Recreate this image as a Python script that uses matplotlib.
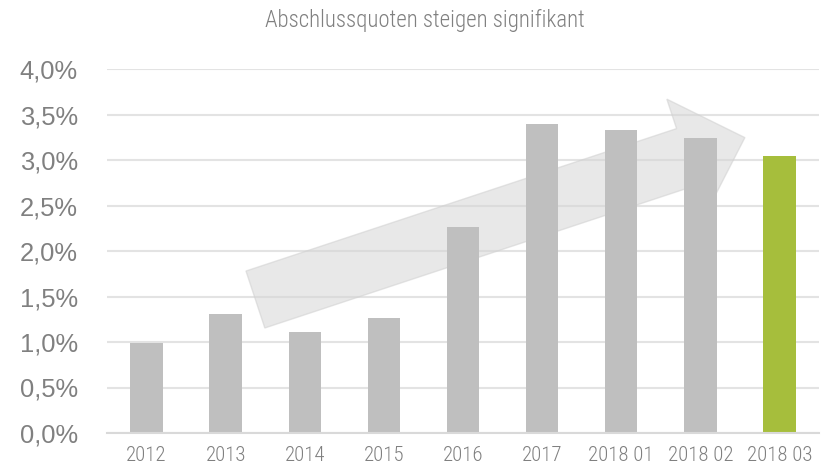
import matplotlib
matplotlib.use('Agg')
import matplotlib.pyplot as plt
from matplotlib import font_manager
from matplotlib.patches import Polygon
from matplotlib.ticker import FuncFormatter
import numpy as np

# data
kategorien = ['2012', '2013', '2014', '2015', '2016', '2017',
              '2018 01', '2018 02', '2018 03']
quoten = [0.99, 1.31, 1.11, 1.26, 2.26, 3.40, 3.33, 3.24, 3.04]
titel = 'Abschlussquoten steigen signifikant'


def schrift(namen):
    # erste installierte Schrift nehmen
    for n in namen:
        try:
            font_manager.findfont(n, fallback_to_default=False)
            return n
        except Exception:
            pass
    return 'DejaVu Sans'


normal = schrift(['Liberation Sans', 'Arial'])
schmal = schrift(['Roboto Condensed', 'Archivo Narrow', 'Liberation Sans'])
grau_text = '#808080'

fig = plt.figure(figsize=(8.25, 4.69), dpi=100)
ax = fig.add_axes([107 / 825, 1 - 433 / 469, 712 / 825, 364 / 469])

x = np.arange(len(kategorien))
farben = ['#BFBFBF'] * (len(kategorien) - 1) + ['#A6BE3C']
ax.bar(x, quoten, width=0.41, color=farben, zorder=3)

ax.set_xlim(-0.5, len(kategorien) - 0.5)
ax.set_ylim(0, 4.0)
ax.set_yticks(np.arange(0, 4.01, 0.5))
ax.yaxis.set_major_formatter(FuncFormatter(lambda v, p: f'{v:.1f}%'.replace('.', ',')))
ax.set_xticks(x)
ax.set_xticklabels(kategorien)

ax.grid(axis='y', color='#E3E3E3', linewidth=1.5, zorder=0)
for s in ['top', 'right', 'left']:
    ax.spines[s].set_visible(False)
ax.spines['bottom'].set_color('#D9D9D9')
ax.spines['bottom'].set_linewidth(1.5)
ax.spines['bottom'].set_zorder(4)
ax.tick_params(axis='both', length=0)
ax.tick_params(axis='y', pad=21, labelsize=18.4, labelcolor=grau_text)
ax.tick_params(axis='x', pad=9.5, labelsize=15, labelcolor=grau_text)
for t in ax.get_yticklabels():
    t.set_fontfamily(normal)
for t in ax.get_xticklabels():
    t.set_fontfamily(schmal)
    t.set_fontweight('light')

# Trendpfeil (Pixel-Geometrie ueber transData)
start = (1.376, 1.467)
spitze = (7.563, 3.246)
p0 = ax.transData.transform(start)
p1 = ax.transData.transform(spitze)
d = p1 - p0
u = d / np.hypot(*d)
n = np.array([-u[1], u[0]])
schaft, kopf, kopf_len = 30.0, 61.0, 62.0
b = p1 - u * kopf_len
punkte = [p0 + n * schaft, b + n * schaft, b + n * kopf, p1,
          b - n * kopf, b - n * schaft, p0 - n * schaft]
punkte = ax.transData.inverted().transform(np.array(punkte))
pfeil = Polygon(punkte, closed=True, facecolor='#D6D6D6', alpha=0.55,
                edgecolor='#D0D0D0', linewidth=1, zorder=2)
ax.add_patch(pfeil)

fig.text(425 / 825, 1 - 20 / 469, titel, ha='center', va='center',
         fontsize=16.5, color=grau_text, family=schmal, fontweight='light')

fig.savefig('out.png', dpi=100)
